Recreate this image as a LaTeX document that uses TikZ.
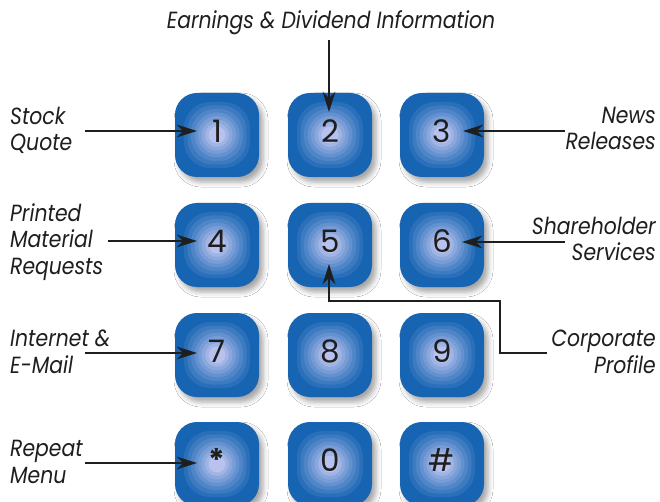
\documentclass[tikz,border=0pt]{standalone}
\usepackage{fontspec}
\setmainfont{Poppins}
\newfontfamily\lblfam[FakeStretch=0.87]{Poppins}
\usetikzlibrary{shadows.blur,calc,arrows.meta}
\definecolor{keyblue}{RGB}{22,100,178}
\definecolor{keylight}{RGB}{184,194,238}
\definecolor{inkblack}{RGB}{30,30,30}
\tikzset{
  arr/.style={line width=2.6pt, draw=inkblack, -{Stealth[length=20pt,width=12.5pt,inset=6pt]}},
  lbl/.style={font=\lblfam\itshape\fontsize{23.4}{26.5}\selectfont, text=inkblack, inner sep=0pt},
  digit/.style={font=\fontsize{31}{31}\selectfont, text=inkblack, inner sep=0pt},
  keyshadow/.style={blur shadow={shadow xshift=4pt,shadow yshift=-5pt,shadow blur radius=5pt,shadow opacity=35}}
}
\begin{document}
\begin{tikzpicture}[x=1pt,y=-1pt]
\useasboundingbox (0,0) rectangle (660,502);
\fill[white] (0,0) rectangle (660,502);
% keys
\foreach \n/\x/\y/\t in {k1/217/135/1,k2/330/135/2,k3/442/135/3,
                          k4/217/245/4,k5/330/245/5,k6/442/245/6,
                          k7/217/355/7,k8/330/355/8,k9/442/355/9,
                          ks/217/464/{\raisebox{-0.28em}{\bfseries *}},k0/330/464/0,kh/442/464/\#}{
  \begin{scope}[shift={(\x,\y)}]
    \path[keyshadow,fill=keyblue,rounded corners=22pt] (-42,-42) rectangle (42,42);
    \foreach \s/\r/\p in {33/26/88,29.5/25/76,26/24/64,22.5/22.5/52,19/19/40,15.5/15.5/28,12/12/15,8.5/8.5/0}{
      \fill[keyblue!\p!keylight,rounded corners=\r pt] (-\s,-\s) rectangle (\s,\s);
    }
  \end{scope}
  \node[digit] (\n) at (\x,\y-3.5) {\t};
}
% labels (base anchor = baseline of the last line)
\node[lbl,anchor=base,align=center] (earn) at (331,29) {Earnings \& Dividend Information};
\node[lbl,anchor=base west,align=left] (stock) at (10,151) {Stock\\Quote};
\node[lbl,anchor=base east,align=right] (news) at (656,150) {News\\Releases};
\node[lbl,anchor=base west,align=left] (print) at (10,274) {Printed\\Material\\Requests};
\node[lbl,anchor=base east,align=right] (share) at (656,261) {Shareholder\\Services};
\node[lbl,anchor=base west,align=left] (inet) at (10,373) {Internet \&\\E-Mail};
\node[lbl,anchor=base east,align=right] (corp) at (656,373) {Corporate\\Profile};
\node[lbl,anchor=base west,align=left] (rep) at (10,483) {Repeat\\Menu};
% connector ends
\coordinate (t1) at (197,131);
\coordinate (t2) at (329,112);
\coordinate (t3) at (463,131);
\coordinate (t4) at (197,241);
\coordinate (t5) at (329,264);
\coordinate (t6) at (462,242);
\coordinate (t7) at (197,353);
\coordinate (ts) at (197,463);
\coordinate (s1) at (85,131);
\coordinate (s2) at (329,40);
\coordinate (s3) at (565,131);
\coordinate (s4) at (108,241);
\coordinate (s5) at (547,353);
\coordinate (s6) at (565,242);
\coordinate (s7) at (85,353);
\coordinate (ss) at (85,463);
\draw[arr] (s1) -- (t1);
\draw[arr] (s2) -- (t2);
\draw[arr] (s3) -- (t3);
\draw[arr] (s4) -- (t4);
\draw[arr] (s6) -- (t6);
\draw[arr] (s7) -- (t7);
\draw[arr] (ss) -- (ts);
\draw[arr] (s5) -- (500,353) -- (500,301) -- (329,301) -- (t5);
\end{tikzpicture}
\end{document}
